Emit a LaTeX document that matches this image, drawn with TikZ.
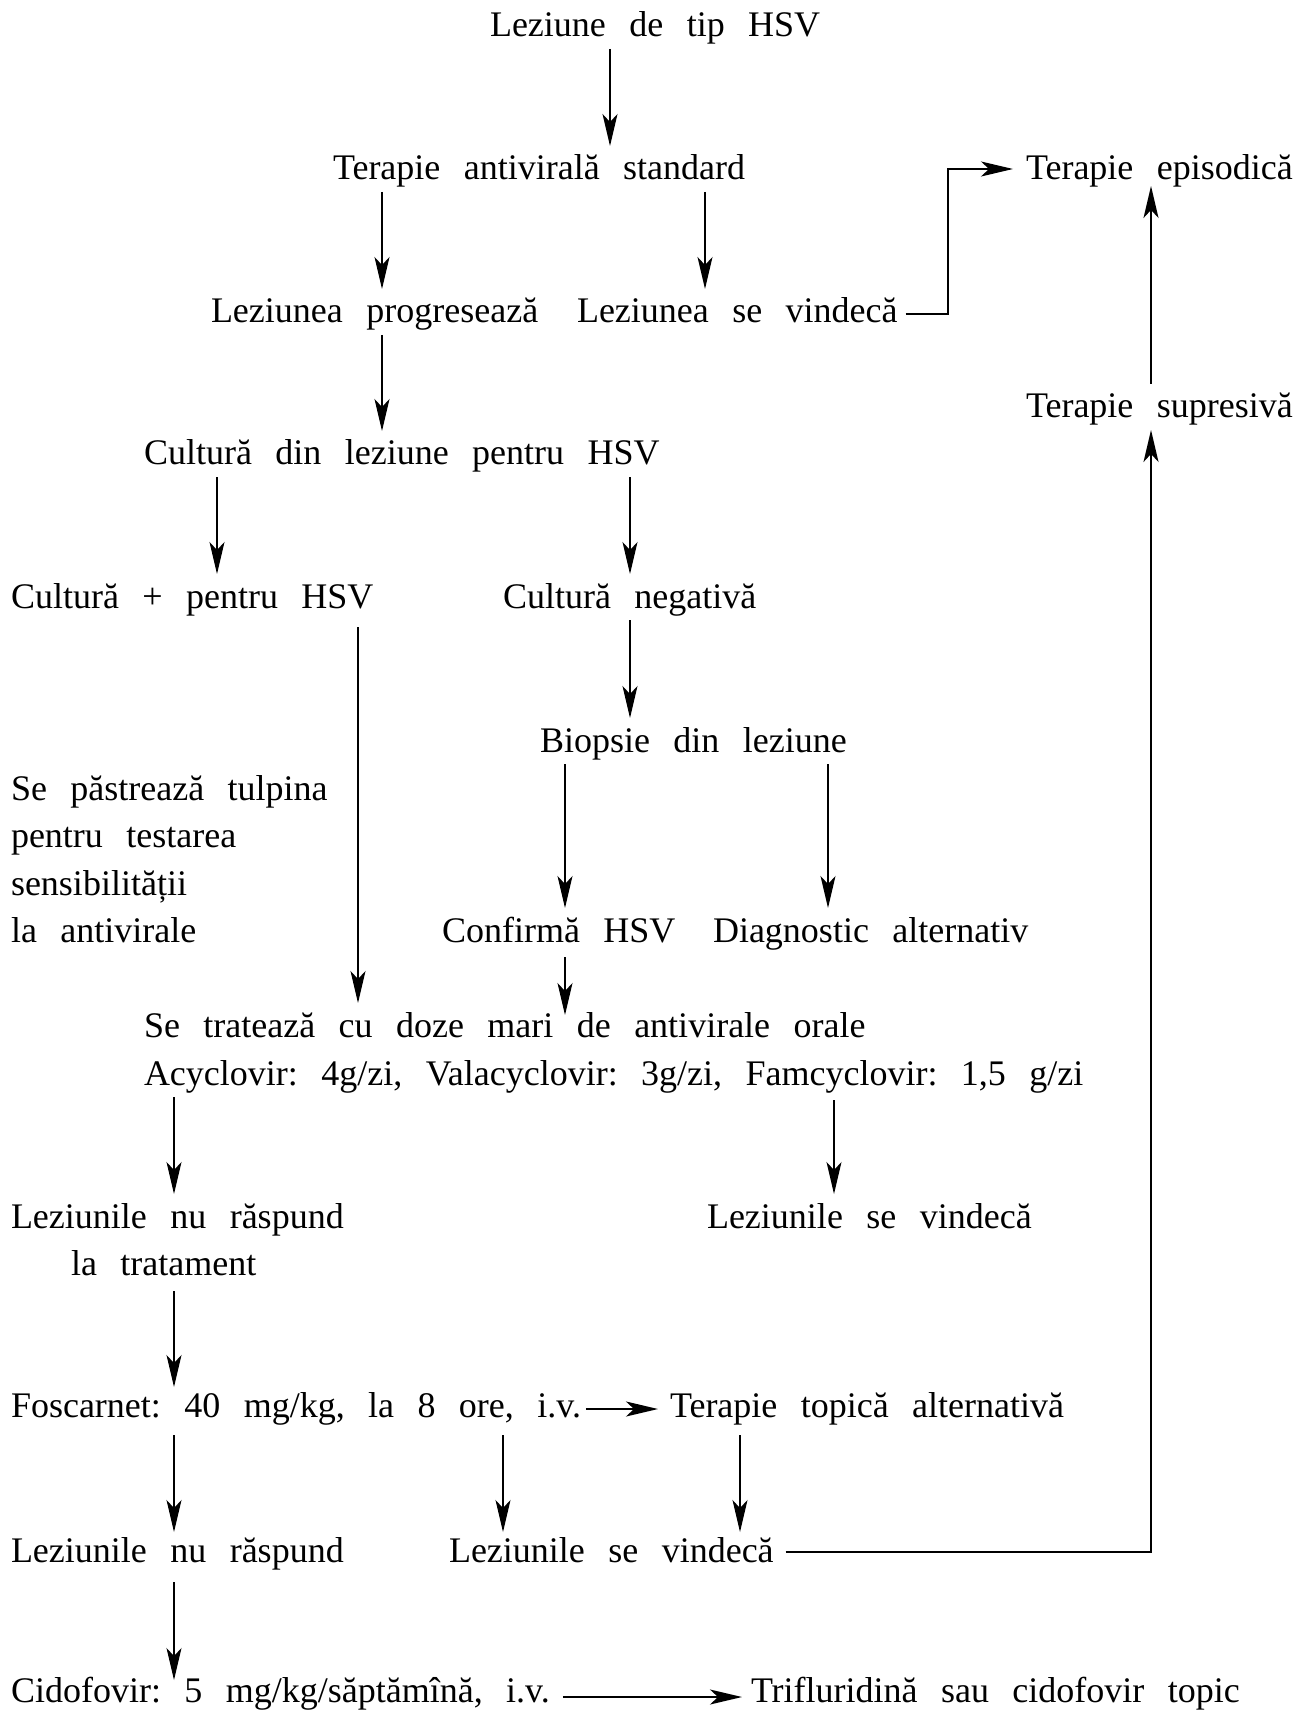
\documentclass[tikz,border=0pt]{standalone}
\usepackage{fontspec}
\setmainfont{Liberation Serif}[WordSpace=2.6]
\usetikzlibrary{arrows.meta}
\frenchspacing
\begin{document}
\begin{tikzpicture}[x=0.5pt,y=-0.5pt,
  lbl/.style={anchor=base west, inner sep=0pt, outer sep=0pt,
    text height=17pt, text depth=6pt,
    font=\fontsize{18pt}{23.6pt}\selectfont\frenchspacing},
  tip/.style={-{Stealth[length=16pt,width=7.5pt,inset=4pt]}},
  down/.style={tip, line width=0.65pt},
  link/.style={tip, line width=0.85pt},
]
\useasboundingbox (0,0) rectangle (1314,1711);

% vertical lanes of the connectors
\coordinate (k175) at (174,0);
\coordinate (k217) at (217,0);
\coordinate (k359) at (358,0);
\coordinate (k382) at (382,0);
\coordinate (k503) at (503,0);
\coordinate (k565) at (565,0);
\coordinate (k610) at (610,0);
\coordinate (k630) at (630,0);
\coordinate (k705) at (705,0);
\coordinate (k740) at (740,0);
\coordinate (k828) at (828,0);
\coordinate (k834) at (834,0);
\coordinate (kel) at (948,240);
\coordinate (k1150) at (1151,0);

% texts
\node[lbl] (lez)   at (490,37)   {Leziune de tip HSV};
\node[lbl] (tas)   at (333,180)  {Terapie antivirală standard};
\node[lbl] (tepi)  at (1026,180) {Terapie episodică};
\node[lbl] (lprog) at (211,323)  {Leziunea progresează};
\node[lbl] (lvind) at (577,323)  {Leziunea se vindecă};
\node[lbl] (tsup)  at (1026,418) {Terapie supresivă};
\node[lbl] (cdin)  at (144,465)  {Cultură din leziune pentru HSV};
\node[lbl] (cpos)  at (11,608)   {Cultură + pentru HSV};
\node[lbl] (cneg)  at (503,608)  {Cultură negativă};
\node[lbl] (biop)  at (540,752)  {Biopsie din leziune};
\node[lbl] (keepa) at (11,800)   {Se păstrează tulpina};
\node[lbl] (keepb) at (11,847)   {pentru testarea};
\node[lbl] (keepc) at (11,895)   {sensibilității};
\node[lbl] (keepd) at (11,942)   {la antivirale};
\node[lbl] (conf)  at (442,942)  {Confirmă HSV};
\node[lbl] (diag)  at (713,942)  {Diagnostic alternativ};
\node[lbl] (trat)  at (144,1037) {Se tratează cu doze mari de antivirale orale};
\node[lbl] (acy)   at (144,1085) {Acyclovir: 4g/zi, Valacyclovir: 3g/zi, Famcyclovir: 1,5 g/zi};
\node[lbl] (lnra)  at (11,1228)  {Leziunile nu răspund};
\node[lbl] (lnrb)  at (71,1275)  {la tratament};
\node[lbl] (lsva)  at (707,1228) {Leziunile se vindecă};
\node[lbl] (fos)   at (11,1417)  {Foscarnet: 40 mg/kg, la 8 ore, i.v.};
\node[lbl] (ttop)  at (670,1417) {Terapie topică alternativă};
\node[lbl] (lnrc)  at (11,1562)  {Leziunile nu răspund};
\node[lbl] (lsvb)  at (449,1562) {Leziunile se vindecă};
\node[lbl] (cid)   at (11,1702)  {Cidofovir: 5 mg/kg/săptămînă, i.v.};
\node[lbl] (trif)  at (751,1702) {Trifluridină sau cidofovir topic};

% downward connectors
\draw[down] (lez.south -| k610) -- (tas.north -| k610);
\draw[down] (tas.south -| k382) -- (lprog.north -| k382);
\draw[down] (tas.south -| k705) -- (lvind.north -| k705);
\draw[down] (lprog.south -| k382) -- (cdin.north -| k382);
\draw[down] (cdin.south -| k217) -- (cpos.north -| k217);
\draw[down] (cdin.south -| k630) -- (cneg.north -| k630);
\draw[down] (cneg.south -| k630) -- (biop.north -| k630);
\draw[down, shorten <=3.5pt] (cpos.south -| k359) -- (trat.north -| k359);
\draw[down] (biop.south -| k565) -- (conf.north -| k565);
\draw[down] (biop.south -| k828) -- (diag.north -| k828);
\draw[down, shorten <=1.5pt, shorten >=-6pt] (conf.south -| k565) -- (trat.north -| k565);
\draw[down] (acy.south -| k175) -- (lnra.north -| k175);
\draw[down, shorten <=1.5pt] (acy.south -| k834) -- (lsva.north -| k834);
\draw[down, shorten <=2pt, shorten >=-2pt] (lnrb.south -| k175) -- (fos.north -| k175);
\draw[down, shorten <=3pt, shorten >=-2pt] (fos.south -| k175) -- (lnrc.north -| k175);
\draw[down, shorten <=3pt, shorten >=-2pt] (fos.south -| k503) -- (lsvb.north -| k503);
\draw[down, shorten <=3pt, shorten >=-2pt] (ttop.south -| k740) -- (lsvb.north -| k740);
\draw[down, shorten <=4pt, shorten >=-6pt] (lnrc.south -| k175) -- (cid.north -| k175);

% sideways and return connectors
\draw[link] ([xshift=4pt,yshift=4.5pt]lvind.base east) -| (kel)
  |- ([xshift=-6.5pt,yshift=5.5pt]tepi.base west);
\draw[link] ([xshift=2.5pt,yshift=4pt]fos.base east) -- ([xshift=-6pt,yshift=4pt]ttop.base west);
\draw[link] ([xshift=6.5pt,yshift=2.5pt]cid.base east) -- ([xshift=-4.5pt,yshift=2.5pt]trif.base west);
\draw[link] ([xshift=6pt,yshift=5pt]lsvb.base east) -| (tsup.south -| k1150);
\draw[link, shorten >=-3pt] (tsup.north -| k1150) -- (tepi.south -| k1150);
\end{tikzpicture}
\end{document}
